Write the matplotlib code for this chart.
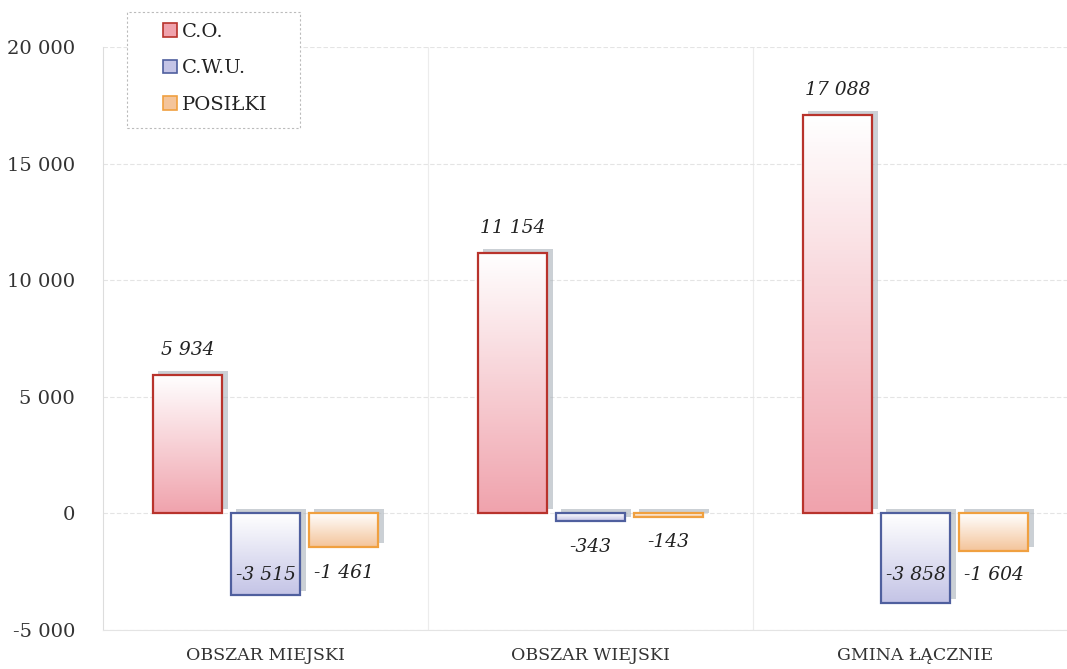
import numpy as np
import matplotlib
matplotlib.use("Agg")
import matplotlib.pyplot as plt
from matplotlib import patheffects as pe
from matplotlib.colors import LinearSegmentedColormap
from matplotlib.patches import Patch, Rectangle

categories = ["OBSZAR MIEJSKI", "OBSZAR WIEJSKI", "GMINA ŁĄCZNIE"]
series_names = ["C.O.", "C.W.U.", "POSIŁKI"]
co = [5934, 11154, 17088]
cwu = [-3515, -343, -3858]
posilki = [-1461, -143, -1604]
yticks = [-5000, 0, 5000, 10000, 15000, 20000]
ytick_labels = ["-5 000", "0", "5 000", "10 000", "15 000", "20 000"]

series = [co, cwu, posilki]
edge_colors = ["#b8332c", "#4f5f9e", "#f0a040"]
fill_colors = ["#f0a3ad", "#c4c4e6", "#f4c49a"]

plt.rcParams["font.family"] = ["DejaVu Serif"]

fig = plt.figure(figsize=(10.67, 6.69), dpi=100)
ax = fig.add_axes([103 / 1067, 1 - 630 / 669, 975 / 1067, (630 - 47) / 669])
ax.set_xlim(-0.5, 2.5)
ax.set_ylim(-5000, 20000)

x = np.arange(len(categories))
width = 0.215
offsets = [-0.24, 0.0, 0.24]

def fmt(v):
    s = f"{abs(v):,}".replace(",", " ")
    return ("-" if v < 0 else "") + s

for i, vals in enumerate(series):
    xs = x + offsets[i]
    shadow = ax.bar(xs, vals, width, color="white", linewidth=0, zorder=2)
    for p in shadow:
        p.set_path_effects([pe.SimplePatchShadow(offset=(4, 3), shadow_rgbFace="#a9b1b9", alpha=0.6), pe.Normal()])
    cmap = LinearSegmentedColormap.from_list("g", ["#ffffff", fill_colors[i]])
    grad = np.linspace(0, 1, 100).reshape(-1, 1)
    for p in shadow:
        x0, y0 = p.get_x(), p.get_y()
        w, h = p.get_width(), p.get_height()
        top, bot = max(y0, y0 + h), min(y0, y0 + h)
        im = ax.imshow(grad, cmap=cmap, extent=[x0, x0 + w, bot, top], aspect="auto",
                       origin="upper", zorder=2.2, vmin=0, vmax=1)
        im.set_clip_path(p)
    ax.bar(xs, vals, width, facecolor="none", edgecolor=edge_colors[i], linewidth=1.6, zorder=2.4)
    for xv, v in zip(xs, vals):
        if v >= 0:
            ax.annotate(fmt(v), (xv, v), xytext=(0, 18), textcoords="offset points",
                        ha="center", va="center", fontsize=13.5, style="italic", color="#222222")
        else:
            ly = max(v - 1100, -2650)
            ax.text(xv, ly, fmt(v), ha="center", va="center", fontsize=13.5, style="italic",
                    color="#222222", zorder=5)

ax.set_yticks(yticks)
ax.set_yticklabels(ytick_labels)
ax.set_xticks(x)
ax.set_xticklabels(categories)
ax.tick_params(axis="x", length=0, labelsize=12.5, colors="#333333", pad=12)
ax.tick_params(axis="y", length=0, labelsize=14, colors="#333333", pad=20)

ax.grid(axis="y", color="#e4e4e4", linewidth=0.8, linestyle=(0, (4, 2)), zorder=0)
for b in [0.5, 1.5]:
    ax.axvline(b, color="#ececec", linewidth=0.8, zorder=0)
for s in ["top", "right"]:
    ax.spines[s].set_visible(False)
ax.spines["left"].set_color("#dddddd")
ax.spines["bottom"].set_color("#e4e4e4")

# legend frame
fig.patches.append(Rectangle((127 / 1067, 1 - 128 / 669), (300 - 127) / 1067, (128 - 12) / 669,
                             transform=fig.transFigure, facecolor="white", edgecolor="#bbbbbb",
                             linewidth=0.8, linestyle=(0, (2, 2)), zorder=1))
handles = [Patch(facecolor=fill_colors[i], edgecolor=edge_colors[i], linewidth=1.2, label=series_names[i])
           for i in range(3)]
leg = fig.legend(handles=handles, loc="upper left", bbox_to_anchor=(163 / 1067, 1 - 23 / 669),
                 fontsize=14, frameon=False, handlelength=0.7, handleheight=0.7,
                 handletextpad=0.25, labelspacing=0.95, borderpad=0, borderaxespad=0)
for t in leg.get_texts():
    t.set_color("#222222")

fig.savefig("out.png", dpi=100)
